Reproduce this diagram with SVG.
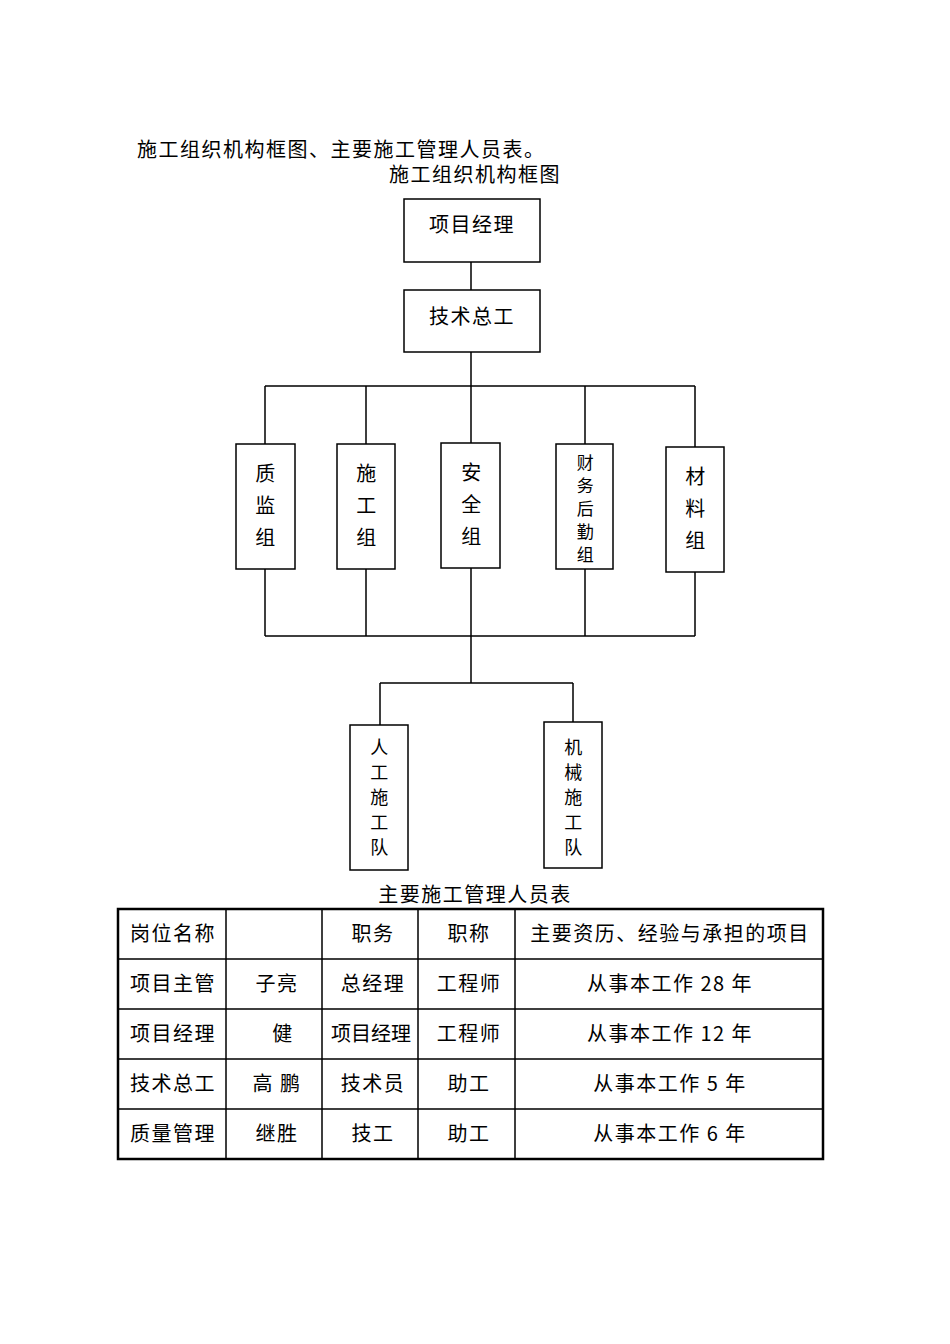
<svg xmlns="http://www.w3.org/2000/svg" width="950" height="1344" viewBox="0 0 950 1344">
<style>
text{font-family:"Noto Sans CJK SC","Liberation Serif",sans-serif;font-size:20px;fill:#000;letter-spacing:1.5px}
.b{fill:#fff;stroke:#000;stroke-width:1.5}
.c{stroke:#000;stroke-width:1.5;fill:none}
.m{text-anchor:middle}
.s{font-size:17px}
.v{font-size:18px}
</style>
<rect width="950" height="1344" fill="#fff"/>
<text x="137" y="157">施工组织机构框图、主要施工管理人员表。</text>
<text x="475" y="182" class="m">施工组织机构框图</text>
<g id="connectors" class="c">
<path d="M471 262V290M471 352V386M265 386H695M265 386V444M366 386V444M471 386V443M585 386V444M695 386V447"/>
<path d="M265 569V636M366 569V636M471 568V636M585 569V636M695 572V636M265 636H695M471 636V683M380 683H573M380 683V725M573 683V722"/>
</g>
<g id="n1"><rect class="b" x="404" y="199" width="136" height="63"/><text x="472" y="232" class="m">项目经理</text></g>
<g id="n2"><rect class="b" x="404" y="290" width="136" height="62"/><text x="472" y="324" class="m">技术总工</text></g>
<g id="n3"><rect class="b" x="236" y="444" width="59" height="125"/><text x="266" y="481" class="m">质</text><text x="266" y="513" class="m">监</text><text x="266" y="545" class="m">组</text></g>
<g id="n4"><rect class="b" x="337" y="444" width="58" height="125"/><text x="367" y="481" class="m">施</text><text x="367" y="513" class="m">工</text><text x="367" y="545" class="m">组</text></g>
<g id="n5"><rect class="b" x="441" y="443" width="59" height="125"/><text x="472" y="480" class="m">安</text><text x="472" y="512" class="m">全</text><text x="472" y="544" class="m">组</text></g>
<g id="n6"><rect class="b" x="556" y="444" width="57" height="125"/><text x="586" y="469" class="m s">财</text><text x="586" y="492" class="m s">务</text><text x="586" y="515" class="m s">后</text><text x="586" y="538" class="m s">勤</text><text x="586" y="561" class="m s">组</text></g>
<g id="n7"><rect class="b" x="666" y="447" width="58" height="125"/><text x="696" y="484" class="m">材</text><text x="696" y="516" class="m">料</text><text x="696" y="548" class="m">组</text></g>
<g id="n8"><rect class="b" x="350" y="725" width="58" height="145"/><text x="380" y="754" class="m v">人</text><text x="380" y="779" class="m v">工</text><text x="380" y="804" class="m v">施</text><text x="380" y="829" class="m v">工</text><text x="380" y="854" class="m v">队</text></g>
<g id="n9"><rect class="b" x="544" y="722" width="58" height="146"/><text x="574" y="754" class="m v">机</text><text x="574" y="779" class="m v">械</text><text x="574" y="804" class="m v">施</text><text x="574" y="829" class="m v">工</text><text x="574" y="854" class="m v">队</text></g>
<text x="475" y="902" class="m">主要施工管理人员表</text>
<g id="table">
<rect x="118" y="909" width="705" height="250" fill="none" stroke="#000" stroke-width="2.5"/>
<path class="c" d="M118 959H823M118 1009H823M118 1059H823M118 1109H823M226 909V1159M322 909V1159M418 909V1159M515 909V1159"/>
<g class="m">
<text x="173" y="941">岗位名称</text><text x="373" y="941">职务</text><text x="469" y="941">职称</text><text x="670" y="941">主要资历、经验与承担的项目</text>
<text x="173" y="991">项目主管</text><text x="277" y="991">子亮</text><text x="373" y="991">总经理</text><text x="469" y="991">工程师</text><text x="670" y="991">从事本工作 28 年</text>
<text x="173" y="1041">项目经理</text><text x="283" y="1041">健</text><text x="371" y="1041" style="letter-spacing:0">项目经理</text><text x="469" y="1041">工程师</text><text x="670" y="1041">从事本工作 12 年</text>
<text x="173" y="1091">技术总工</text><text x="277" y="1091">高 鹏</text><text x="373" y="1091">技术员</text><text x="469" y="1091">助工</text><text x="670" y="1091">从事本工作 5 年</text>
<text x="173" y="1141">质量管理</text><text x="277" y="1141">继胜</text><text x="373" y="1141">技工</text><text x="469" y="1141">助工</text><text x="670" y="1141">从事本工作 6 年</text>
</g>
</g>
</svg>
